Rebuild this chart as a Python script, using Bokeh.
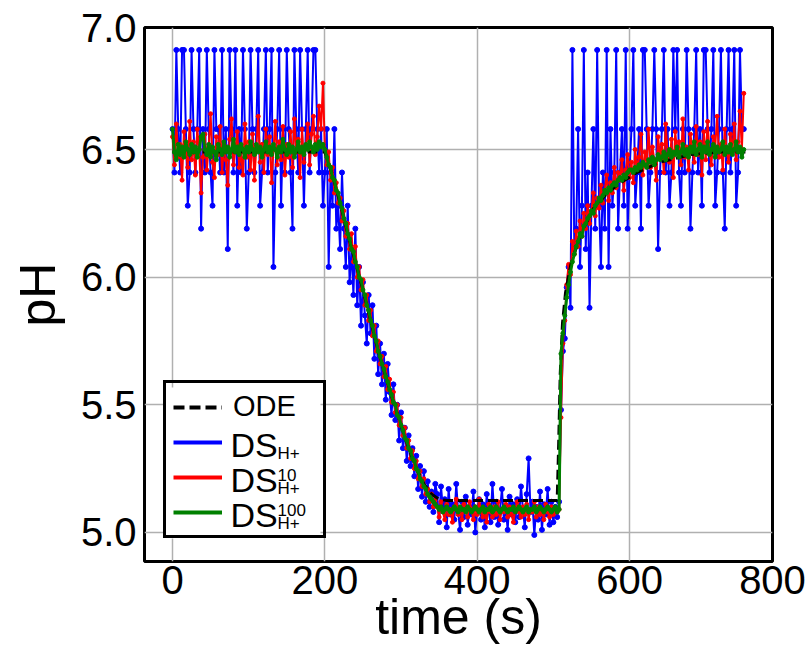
import numpy as np
from bokeh.plotting import figure
from bokeh.models import (Range1d, FixedTicker, NumeralTickFormatter, Legend,
                          LegendItem, CDSView, IndexFilter)
from bokeh.core.properties import value
from bokeh.embed import file_html
from bokeh.resources import INLINE

# ---------------- data ----------------
SAMPLE_STEP_S = 2.5  # time between successive DS samples

# DS_H+ : single stochastic run (quantized pH levels)
ph_ds = [
    # 0 - 200 s
    6.58, 6.41, 6.89, 6.58, 6.41, 6.89, 6.89, 6.58, 6.28, 6.41,
    6.89, 6.58, 6.41, 6.58, 6.89, 6.19, 6.58, 6.41, 6.89, 6.58,
    6.41, 6.28, 6.89, 6.58, 6.58, 6.41, 6.89, 6.41, 6.58, 6.11,
    6.89, 6.58, 6.41, 6.89, 6.28, 6.58, 6.41, 6.89, 6.58, 6.19,
    6.41, 6.89, 6.58, 6.41, 6.58, 6.89, 6.28, 6.41, 6.58, 6.89,
    6.41, 6.58, 6.89, 6.04, 6.41, 6.58, 6.89, 6.28, 6.58, 6.41,
    6.89, 6.58, 6.41, 6.19, 6.89, 6.58, 6.41, 6.89, 6.58, 6.28,
    6.58, 6.89, 6.41, 6.58, 6.89, 6.89, 6.58, 6.41, 6.58, 6.28,
    6.41,
    # 202.5 - 345 s
    6.58, 6.04, 6.41, 6.28, 6.58, 6.19, 6.28, 6.11, 6.41, 6.19,
    6.04, 6.28, 5.98, 6.11, 5.93, 6.19, 5.89, 6.04, 5.81, 5.98,
    5.85, 5.74, 5.93, 5.78, 5.89, 5.68, 5.81, 5.62, 5.74, 5.58,
    5.70, 5.52, 5.66, 5.55, 5.46, 5.58, 5.44, 5.50, 5.36, 5.47,
    5.33, 5.41, 5.28, 5.38, 5.26, 5.33, 5.22, 5.30, 5.17, 5.26,
    5.14, 5.24, 5.12, 5.20, 5.10, 5.16, 5.08, 5.19,
    # 347.5 - 505 s
    5.15, 5.04, 5.18, 5.09, 5.13, 5.02, 5.17, 5.07, 5.11, 5.05,
    5.19, 5.08, 5.01, 5.12, 5.06, 5.14, 5.03, 5.10, 5.07, 5.16,
    5.00, 5.09, 5.13, 5.05, 5.11, 5.02, 5.15, 5.08, 5.04, 5.19,
    5.06, 5.12, 5.03, 5.09, 5.17, 5.05, 5.10, 5.01, 5.14, 5.07,
    5.11, 5.04, 5.13, 5.06, 5.18, 5.09, 5.02, 5.15, 5.29, 5.08,
    5.12, 4.99, 5.10, 5.05, 5.16, 5.01, 5.11, 5.07, 5.17, 5.03,
    5.12, 5.04, 5.10, 5.06,
    # 507.5 - 750 s
    5.12, 5.48, 5.71, 5.76, 5.96, 6.04, 5.88, 6.89, 6.11, 6.19,
    6.58, 6.04, 6.28, 6.89, 6.11, 6.41, 5.88, 6.28, 6.58, 6.19,
    6.89, 6.28, 6.04, 6.41, 6.19, 6.89, 6.04, 6.58, 6.28, 6.41,
    6.89, 6.19, 6.41, 6.58, 6.28, 6.89, 6.19, 6.41, 6.58, 6.89,
    6.28, 6.41, 6.58, 6.19, 6.89, 6.89, 6.58, 6.28, 6.41, 6.58,
    6.89, 6.58, 6.11, 6.41, 6.58, 6.89, 6.41, 6.58, 6.28, 6.41,
    6.89, 6.58, 6.89, 6.41, 6.28, 6.58, 6.41, 6.89, 6.58, 6.19,
    6.41, 6.58, 6.89, 6.41, 6.58, 6.28, 6.89, 6.89, 6.58, 6.41,
    6.58, 6.89, 6.28, 6.41, 6.58, 6.89, 6.41, 6.19, 6.58, 6.89,
    6.41, 6.58, 6.89, 6.28, 6.41, 6.89, 6.58, 6.58,
]

# DS^10_H+ : average of 10 runs
ph_ds10 = [
    # 0 - 200 s
    6.55, 6.44, 6.60, 6.47, 6.52, 6.38, 6.57, 6.49, 6.43, 6.61,
    6.46, 6.53, 6.40, 6.58, 6.50, 6.33, 6.47, 6.56, 6.42, 6.51,
    6.64, 6.45, 6.39, 6.55, 6.48, 6.59, 6.41, 6.52, 6.46, 6.36,
    6.54, 6.62, 6.44, 6.50, 6.57, 6.43, 6.49, 6.40, 6.60, 6.47,
    6.53, 6.42, 6.56, 6.38, 6.51, 6.63, 6.45, 6.52, 6.41, 6.58,
    6.48, 6.55, 6.37, 6.50, 6.61, 6.44, 6.53, 6.46, 6.59, 6.40,
    6.52, 6.47, 6.57, 6.43, 6.62, 6.49, 6.54, 6.39, 6.58, 6.45,
    6.51, 6.60, 6.44, 6.56, 6.63, 6.48, 6.55, 6.67, 6.58, 6.76,
    6.50,
    # 202.5 - 345 s
    6.44, 6.49, 6.38, 6.43, 6.33, 6.37, 6.29, 6.31, 6.22, 6.26,
    6.16, 6.21, 6.11, 6.17, 6.06, 6.12, 6.00, 6.04, 5.95, 5.99,
    5.89, 5.93, 5.83, 5.87, 5.77, 5.81, 5.71, 5.75, 5.66, 5.69,
    5.61, 5.65, 5.56, 5.60, 5.51, 5.55, 5.47, 5.50, 5.42, 5.45,
    5.38, 5.41, 5.33, 5.36, 5.29, 5.32, 5.25, 5.28, 5.21, 5.24,
    5.18, 5.21, 5.15, 5.17, 5.12, 5.15, 5.10, 5.13,
    # 347.5 - 505 s
    5.10, 5.06, 5.12, 5.08, 5.05, 5.11, 5.07, 5.09, 5.04, 5.10,
    5.13, 5.07, 5.09, 5.05, 5.11, 5.08, 5.06, 5.12, 5.09, 5.05,
    5.10, 5.07, 5.13, 5.08, 5.06, 5.09, 5.04, 5.11, 5.08, 5.06,
    5.10, 5.07, 5.12, 5.05, 5.09, 5.08, 5.11, 5.06, 5.10, 5.07,
    5.04, 5.09, 5.12, 5.08, 5.06, 5.10, 5.07, 5.11, 5.05, 5.09,
    5.08, 5.12, 5.06, 5.10, 5.07, 5.09, 5.05, 5.11, 5.08, 5.06,
    5.10, 5.07, 5.09, 5.08,
    # 507.5 - 750 s
    5.09, 5.45, 5.74, 5.83, 5.97, 6.05, 6.01, 6.14, 6.09, 6.18,
    6.12, 6.22, 6.16, 6.25, 6.19, 6.28, 6.21, 6.26, 6.33, 6.24,
    6.31, 6.27, 6.36, 6.29, 6.34, 6.40, 6.30, 6.37, 6.33, 6.43,
    6.35, 6.41, 6.38, 6.46, 6.34, 6.42, 6.48, 6.39, 6.45, 6.37,
    6.50, 6.42, 6.47, 6.56, 6.40, 6.49, 6.44, 6.58, 6.43, 6.51,
    6.46, 6.38, 6.55, 6.47, 6.52, 6.41, 6.60, 6.48, 6.45, 6.54,
    6.39, 6.57, 6.49, 6.53, 6.44, 6.62, 6.47, 6.51, 6.42, 6.56,
    6.50, 6.45, 6.59, 6.48, 6.53, 6.40, 6.57, 6.46, 6.61, 6.49,
    6.44, 6.55, 6.51, 6.63, 6.47, 6.52, 6.42, 6.58, 6.50, 6.45,
    6.56, 6.49, 6.60, 6.46, 6.53, 6.65, 6.50, 6.72,
]

# DS^100_H+ : average of 100 runs
ph_ds100 = [
    # 0 - 200 s
    6.58, 6.49, 6.46, 6.52, 6.48, 6.51, 6.47, 6.53, 6.50, 6.48,
    6.52, 6.49, 6.51, 6.47, 6.50, 6.55, 6.56, 6.50, 6.48, 6.52,
    6.47, 6.51, 6.49, 6.46, 6.52, 6.50, 6.48, 6.53, 6.49, 6.51,
    6.47, 6.50, 6.54, 6.49, 6.51, 6.48, 6.52, 6.50, 6.47, 6.51,
    6.49, 6.53, 6.50, 6.48, 6.52, 6.49, 6.51, 6.47, 6.50, 6.53,
    6.49, 6.51, 6.48, 6.52, 6.50, 6.47, 6.51, 6.49, 6.54, 6.50,
    6.48, 6.52, 6.49, 6.51, 6.47, 6.50, 6.53, 6.49, 6.51, 6.48,
    6.52, 6.50, 6.53, 6.51, 6.49, 6.52, 6.50, 6.53, 6.51, 6.52,
    6.50,
    # 202.5 - 345 s
    6.47, 6.44, 6.43, 6.39, 6.38, 6.34, 6.33, 6.29, 6.27, 6.23,
    6.21, 6.17, 6.15, 6.11, 6.10, 6.06, 6.04, 6.00, 5.99, 5.95,
    5.93, 5.89, 5.87, 5.83, 5.81, 5.77, 5.75, 5.71, 5.69, 5.66,
    5.64, 5.61, 5.59, 5.56, 5.54, 5.51, 5.50, 5.46, 5.45, 5.42,
    5.40, 5.37, 5.36, 5.33, 5.32, 5.29, 5.28, 5.25, 5.24, 5.21,
    5.20, 5.18, 5.17, 5.15, 5.14, 5.13, 5.12, 5.11,
    # 347.5 - 505 s
    5.10, 5.09, 5.10, 5.08, 5.09, 5.10, 5.09, 5.08, 5.09, 5.10,
    5.09, 5.08, 5.10, 5.09, 5.09, 5.08, 5.10, 5.09, 5.08, 5.09,
    5.10, 5.09, 5.08, 5.09, 5.10, 5.08, 5.09, 5.09, 5.10, 5.08,
    5.09, 5.10, 5.09, 5.08, 5.09, 5.10, 5.09, 5.08, 5.09, 5.09,
    5.10, 5.08, 5.09, 5.10, 5.09, 5.08, 5.09, 5.10, 5.08, 5.09,
    5.09, 5.10, 5.08, 5.09, 5.10, 5.09, 5.08, 5.09, 5.10, 5.09,
    5.08, 5.09, 5.10, 5.08,
    # 507.5 - 750 s
    5.09, 5.70, 5.78, 5.85, 5.92, 5.97, 6.02, 6.06, 6.09, 6.12,
    6.14, 6.17, 6.16, 6.20, 6.21, 6.23, 6.24, 6.26, 6.25, 6.28,
    6.29, 6.31, 6.30, 6.32, 6.34, 6.33, 6.35, 6.34, 6.36, 6.37,
    6.36, 6.38, 6.39, 6.38, 6.40, 6.39, 6.41, 6.42,
    6.42, 6.41, 6.43, 6.42, 6.44, 6.43, 6.45, 6.44, 6.43, 6.46,
    6.45, 6.47, 6.44, 6.46, 6.48, 6.46, 6.47, 6.49, 6.46, 6.48,
    6.50, 6.47, 6.49, 6.48, 6.51, 6.47, 6.49, 6.52, 6.48, 6.50,
    6.47, 6.51, 6.49, 6.53, 6.48, 6.50, 6.52, 6.47, 6.51, 6.49,
    6.53, 6.48, 6.50, 6.52, 6.47, 6.51, 6.49, 6.50, 6.53, 6.48,
    6.51, 6.49, 6.52, 6.48, 6.50, 6.53, 6.49, 6.51, 6.47, 6.50,
]

# deterministic ODE solution
ode_time = [0, 200, 210, 220, 230, 240, 250, 260, 270, 280, 290, 300, 310,
            320, 330, 340, 350, 360, 505, 507, 509, 512, 516, 523, 536, 553,
            571, 588, 610, 640, 680, 720, 755]
ode_ph = [6.49, 6.49, 6.40, 6.29, 6.17, 6.06, 5.95, 5.83, 5.71, 5.61, 5.51,
          5.42, 5.33, 5.25, 5.19, 5.15, 5.13, 5.125, 5.125, 5.35, 5.62, 5.82,
          5.94, 6.05, 6.17, 6.27, 6.33, 6.37, 6.41, 6.45, 6.48, 6.49, 6.49]

# axis extents as read from the gridline spacing; the outermost labels
# ("800", "7.0") sit on the frame edge in the reference
X_RANGE = (-36.8, 787.7)
Y_RANGE = (4.886, 6.978)
x_ticks = [0, 200, 400, 600, X_RANGE[1]]
x_tick_labels = ["0", "200", "400", "600", "800"]
y_ticks = [5.0, 5.5, 6.0, 6.5, Y_RANGE[1]]
y_tick_labels = ["5.0", "5.5", "6.0", "6.5", "7.0"]

assert len(ph_ds) == len(ph_ds10) == len(ph_ds100)
time = np.arange(len(ph_ds)) * SAMPLE_STEP_S

BLUE, RED, GREEN = "#0000ff", "#ff0000", "#008000"
FONT = "Liberation Sans"

# ---------------- figure ----------------
W, H = 808, 660
B_LEFT, B_RIGHT, B_TOP, B_BOTTOM = 144, 36, 27, 99
FRAME_W = W - B_LEFT - B_RIGHT
FRAME_H = H - B_TOP - B_BOTTOM
PX_X = FRAME_W / (X_RANGE[1] - X_RANGE[0])
PX_Y = FRAME_H / (Y_RANGE[1] - Y_RANGE[0])

p = figure(width=W, height=H,
           x_range=Range1d(*X_RANGE), y_range=Range1d(*Y_RANGE),
           output_backend="svg", toolbar_location=None,
           min_border_left=B_LEFT, min_border_right=B_RIGHT,
           min_border_top=B_TOP, min_border_bottom=B_BOTTOM)
p.background_fill_color = "white"
p.border_fill_color = "white"
p.outline_line_color = "black"
p.outline_line_width = 3
p.outline_line_alpha = 1

p.xaxis.ticker = FixedTicker(ticks=x_ticks)
p.yaxis.ticker = FixedTicker(ticks=y_ticks)
p.xaxis.major_label_overrides = dict(zip(x_ticks, x_tick_labels))
p.yaxis.major_label_overrides = dict(zip(y_ticks, y_tick_labels))
p.yaxis.formatter = NumeralTickFormatter(format="0.0")
for ax in (p.xaxis[0], p.yaxis[0]):
    ax.axis_line_color = None
    ax.major_tick_line_color = None
    ax.minor_tick_line_color = None
    ax.major_tick_out = 0
    ax.major_tick_in = 0
    ax.minor_tick_out = 0
    ax.minor_tick_in = 0
    ax.major_label_text_font = FONT
    ax.major_label_text_font_size = "40px"
    ax.major_label_text_color = "black"
    ax.axis_label_text_font = FONT
    ax.axis_label_text_font_style = "normal"
    ax.axis_label_text_color = "black"
p.xaxis.major_label_standoff = 4
p.yaxis.major_label_standoff = 8
p.xaxis.axis_label = "time (s)"
p.xaxis.axis_label_text_font_size = "50px"
p.xaxis.axis_label_standoff = -8
p.yaxis.axis_label = "pH"
p.yaxis.axis_label_text_font_size = "50px"
p.yaxis.axis_label_standoff = 12

p.grid.grid_line_color = "#b0b0b0"
p.grid.grid_line_width = 1.5

# ---------------- legend geometry (pixels from the frame's bottom-left) ----
LEG_X, LEG_Y = 19, 23
PAD, GLYPH_W, GLYPH_H, SPACING, STANDOFF, LABEL_W = 7, 49, 32, 3, 11, 83
leg_h = 2 * PAD + 4 * GLYPH_H + 3 * SPACING
leg_w = 2 * PAD + GLYPH_W + STANDOFF + LABEL_W
text_x = LEG_X + PAD + GLYPH_W + STANDOFF


def dx(px):
    return X_RANGE[0] + px / PX_X


def dy(px):
    return Y_RANGE[0] + px / PX_Y


# white key panel (hides the grid behind the legend)
p.quad(left=[dx(LEG_X)], right=[dx(LEG_X + leg_w)],
       bottom=[dy(LEG_Y)], top=[dy(LEG_Y + leg_h)],
       fill_color="white", line_color=None)

# ---------------- series ----------------
p.line(time, ph_ds, color=BLUE, line_width=2)
p.scatter(time, ph_ds, size=5, color=BLUE)
p.line(time, ph_ds10, color=RED, line_width=2)
p.scatter(time, ph_ds10, size=4, color=RED)
p.line(ode_time, ode_ph, color="black", line_width=3, line_dash="10 5")
p.line(time, ph_ds100, color=GREEN, line_width=3)
p.scatter(time, ph_ds100, size=4, color=GREEN)


# legend keys: same series with a one-sample view (a single point draws no
# line in the plot), so the key strokes can be thicker than the data lines
def key_view():
    return CDSView(filter=IndexFilter(indices=[0]))


k_ode = p.line(ode_time, ode_ph, color="black", line_width=4, line_dash="11 5", view=key_view())
k_ds = p.line(time, ph_ds, color=BLUE, line_width=4, view=key_view())
k_ds10 = p.line(time, ph_ds10, color=RED, line_width=4, view=key_view())
k_ds100 = p.line(time, ph_ds100, color=GREEN, line_width=4, view=key_view())

legend = Legend(items=[LegendItem(label=value("ODE"), renderers=[k_ode]),
                       LegendItem(label=value(" "), renderers=[k_ds]),
                       LegendItem(label=value(" "), renderers=[k_ds10]),
                       LegendItem(label=value(" "), renderers=[k_ds100])],
                location=(LEG_X, LEG_Y), padding=PAD, spacing=SPACING,
                glyph_width=GLYPH_W, glyph_height=GLYPH_H,
                label_height=GLYPH_H, label_width=LABEL_W,
                label_standoff=STANDOFF, margin=0,
                label_text_font=FONT, label_text_font_size="29px",
                label_text_color="black",
                border_line_color="black", border_line_width=3,
                border_line_alpha=1,
                background_fill_color="white", background_fill_alpha=0)
p.add_layout(legend)


def row_center(i):
    return LEG_Y + leg_h - PAD - GLYPH_H / 2 - i * (GLYPH_H + SPACING)


def key_text(txt, rx, ry, size):
    p.text(x=[dx(rx)], y=[dy(ry)], text=[txt],
           text_font=value(FONT), text_font_size=value(f"{size}px"),
           text_color="black", text_baseline="middle", text_align="left")


DS_SIZE, SUB_SIZE, DS_W = 34, 17, 47
for i, sup in ((1, None), (2, "10"), (3, "100")):
    rc = row_center(i)
    key_text("DS", text_x, rc + 1, DS_SIZE)
    key_text("H+", text_x + DS_W, rc - 7.5, SUB_SIZE)
    if sup:
        key_text(sup, text_x + DS_W, rc + 5.5, SUB_SIZE)

open("out.html", "w").write(file_html(p, INLINE))
